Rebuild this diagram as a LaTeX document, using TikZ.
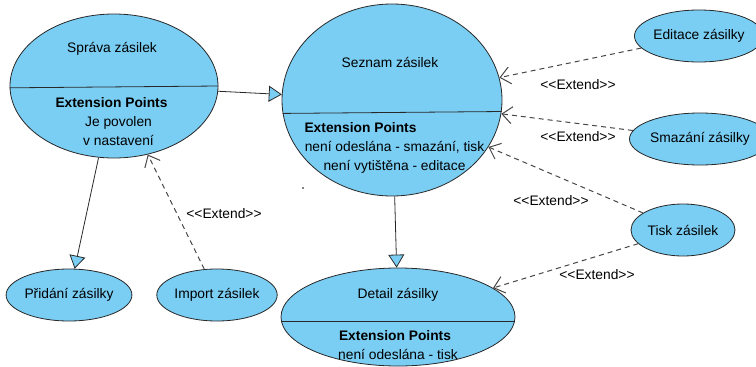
\documentclass[tikz,border=0pt]{standalone}
\usepackage{fontspec}
\setmainfont{Liberation Sans}
\usetikzlibrary{shapes.geometric, arrows.meta, positioning}
\definecolor{ucblue}{RGB}{122,206,244}
\definecolor{ucline}{RGB}{40,40,40}
\definecolor{extgray}{RGB}{70,70,70}
\newcommand{\extlabel}{<{}<Extend>{}>}

\begin{document}
\begin{tikzpicture}[
    x=1pt, y=-1pt,
    usecase/.style={ellipse, draw=ucline, fill=ucblue, line width=0.8pt, inner sep=0pt},
    gen/.style={-{Triangle[length=13pt, width=16pt, fill=ucblue]}, draw=ucline, line width=0.8pt},
    extend/.style={-{Straight Barb[length=10pt, width=17pt]}, draw=extgray, dash pattern=on 5pt off 4pt, line width=1pt},
    divider/.style={draw=ucline, line width=0.8pt},
    label/.style={inner sep=1pt},
    every node/.append style={font=\fontsize{13.8}{19}\selectfont}
]
    \useasboundingbox (0,0) rectangle (756,367);

    % use cases with extension points
    \node[usecase, minimum width=208pt, minimum height=144pt] (sprava) at (114,86) {};
    \node[usecase, minimum width=220pt, minimum height=192pt] (seznam) at (392,100) {};
    \node[usecase, minimum width=234pt, minimum height=98pt] (detail) at (398,317) {};
    \draw[divider] (sprava.-179.5) -- (sprava.-0.5);
    \draw[divider] (seznam.-173.2) -- (seznam.-6.8);
    \draw[divider] (detail.-178) -- (detail.-2);

    \node (spravaT) at (112,49) {Správa zásilek};
    \node[font=\fontsize{13.8}{19}\selectfont\bfseries] (spravaE) at (111.5,103) {Extension Points};
    \node[align=center, below=1pt of spravaE.south, xshift=7pt, anchor=north] (spravaP) {Je povolen\\v nastavení};

    \node (seznamT) at (390,62) {Seznam zásilek};
    \node[font=\fontsize{13.8}{19}\selectfont\bfseries, anchor=west] (seznamE) at (301,128) {Extension Points};
    \node[align=center] (seznamP) at (394.5,157.5) {není odeslána - smazání, tisk\\není vytištěna - editace};

    \node (detailT) at (398,295) {Detail zásilky};
    \node[font=\fontsize{13.8}{19}\selectfont\bfseries] (detailE) at (395,336) {Extension Points};
    \node (detailP) at (398,354) {není odeslána - tisk};

    % simple use cases
    \node[usecase, minimum width=116pt, minimum height=52pt] (pridani) at (69,295) {Přidání zásilky};
    \node[usecase, minimum width=104pt, minimum height=52pt] (import) at (217,295) {Import zásilek};
    \node[usecase, minimum width=113pt, minimum height=52pt] (editace) at (699,36) {Editace zásilky};
    \node[usecase, minimum width=112pt, minimum height=52pt] (smazani) at (700,139) {Smazání zásilky};
    \node[usecase, minimum width=104pt, minimum height=52pt] (tisk) at (683,230) {Tisk zásilek};

    \draw[gen] (sprava) -- (seznam);
    \draw[gen] (sprava) -- (pridani);
    \draw[gen] (seznam) -- (detail);

    \draw[extend] (import) -- (sprava);
    \draw[extend] (editace) -- (seznam);
    \draw[extend] (smazani) -- (seznam);
    \draw[extend] (tisk) -- (seznam.-26);
    \draw[extend] (tisk) -- (detail);

    \node[label] (extA) at (224,214) {\extlabel};
    \node[label] (extB) at (578,85) {\extlabel};
    \node[label] (extC) at (578,137) {\extlabel};
    \node[label] (extD) at (551,201) {\extlabel};
    \node[label] (extE) at (597,275) {\extlabel};

    \fill (303,188) circle (0.8);
\end{tikzpicture}
\end{document}
